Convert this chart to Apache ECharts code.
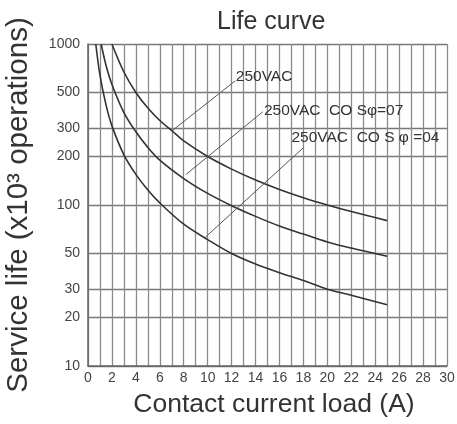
<!DOCTYPE html>
<html><head><meta charset="utf-8">
<script src="https://cdn.jsdelivr.net/npm/echarts@6/dist/echarts.min.js"></script>
<style>html,body{margin:0;padding:0;background:#fff}#c{width:457px;height:424px}</style>
</head><body><div id="c"></div>
<script>
// Curve 1: 250VAC (resistive)
const curve1Current = [2.0, 3, 4, 5, 6, 7, 8, 10, 12, 14, 16, 18, 20, 22, 25];
const curve1Life    = [1000, 670, 500, 400, 335, 290, 250, 200, 167, 143, 125, 111, 100, 91, 80];
// Curve 2: 250VAC cos φ = 0.7
const curve2Current = [1.1, 1.5, 2, 3, 4, 5, 6, 8, 10, 12, 14, 16, 18, 20, 22, 25];
const curve2Life    = [1000, 740, 560, 375, 285, 228, 190, 146, 118, 99, 85, 74, 66, 59, 54, 48];
// Curve 3: 250VAC cos φ = 0.4
const curve3Current = [0.65, 1, 1.5, 2, 3, 4, 5, 6, 8, 10, 12, 14, 16, 18, 20, 22, 25];
const curve3Life    = [1000, 640, 420, 310, 205, 155, 124, 103, 76, 61, 50, 43, 38, 34, 30, 27.5, 24];

const yTickValues = [10, 20, 30, 50, 100, 200, 300, 500, 1000];
const curveLabels = ['250VAC', '250VAC  CO Sφ=07', '250VAC  CO S φ =04'];
// annotation leaders in data space [current, life]
const leaderFrom = [[7.1, 292], [8.2, 155], [9.8, 63]];
const leaderTo   = [[12.3, 590], [14.6, 379], [18.0, 227]];
const labelAt    = [[12.35, 625], [14.7, 385], [17.0, 262]];

const FONT = '"Liberation Sans", Arial, sans-serif';
function pairs(xs, ys) { return xs.map((x, i) => [x, ys[i]]); }
function curve(xs, ys, name) {
  return {
    type: 'line', name, data: pairs(xs, ys), smooth: 0.35, symbol: 'none', showSymbol: false,
    lineStyle: { color: '#333', width: 1.6 }, silent: true, z: 3, animation: false
  };
}
const s1 = curve(curve1Current, curve1Life, '250VAC');
s1.markLine = {
  silent: true, symbol: ['none', 'none'], animation: false,
  lineStyle: { color: '#555', width: 1, type: 'solid' }, label: { show: false },
  data: leaderFrom.map((f, i) => [{ coord: f }, { coord: leaderTo[i] }])
};
s1.markPoint = {
  silent: true, symbol: 'circle', symbolSize: 0, animation: false,
  label: { show: true, position: [0, 0], align: 'left', verticalAlign: 'middle',
           color: '#333', fontSize: 15.5, fontFamily: FONT, formatter: p => p.name },
  data: labelAt.map((c, i) => ({ coord: c, name: curveLabels[i] }))
};

const chart = echarts.init(document.getElementById('c'), null, { renderer: 'canvas' });
chart.setOption({
  animation: false,
  backgroundColor: '#fff',
  title: { text: 'Life curve', left: 212, top: 5,
           textStyle: { fontSize: 25, fontWeight: 'normal', color: '#333', fontFamily: FONT } },
  grid: { left: 88, right: 10, top: 44, bottom: 58, containLabel: false, outerBoundsMode: 'none' },
  xAxis: {
    type: 'value', min: 0, max: 30, interval: 1,
    name: 'Contact current load (A)', nameLocation: 'middle', nameGap: 25,
    nameTextStyle: { fontSize: 26.5, color: '#333', fontFamily: FONT, padding: [0, 0, 0, 13] },
    axisLine: { show: true, lineStyle: { color: '#666', width: 1.5 } },
    axisTick: { show: false },
    axisLabel: { color: '#444', fontSize: 14, fontFamily: FONT, margin: 5,
                 formatter: v => (v % 2 === 0 ? String(v) : ''), showMaxLabel: true, showMinLabel: true },
    splitLine: { show: true, lineStyle: { color: '#8a8a8a', width: 1.3 } }
  },
  yAxis: {
    type: 'log', logBase: 10, min: 10, max: 1000,
    name: 'Service life (x10³ operations)', nameLocation: 'middle', nameGap: 54,
    nameTextStyle: { fontSize: 29.5, color: '#333', fontFamily: FONT, padding: [0, 0, 0, 0] },
    axisLine: { show: true, lineStyle: { color: '#666', width: 1.5 } },
    axisTick: { show: false, customValues: yTickValues },
    axisLabel: { customValues: yTickValues, color: '#444', fontSize: 14, fontFamily: FONT, margin: 8,
                 formatter: v => String(v) },
    splitLine: { show: true, lineStyle: { color: '#777', width: 1.3 } }
  },
  series: [
    s1,
    curve(curve2Current, curve2Life, '250VAC cos0.7'),
    curve(curve3Current, curve3Life, '250VAC cos0.4')
  ]
});
</script></body></html>
